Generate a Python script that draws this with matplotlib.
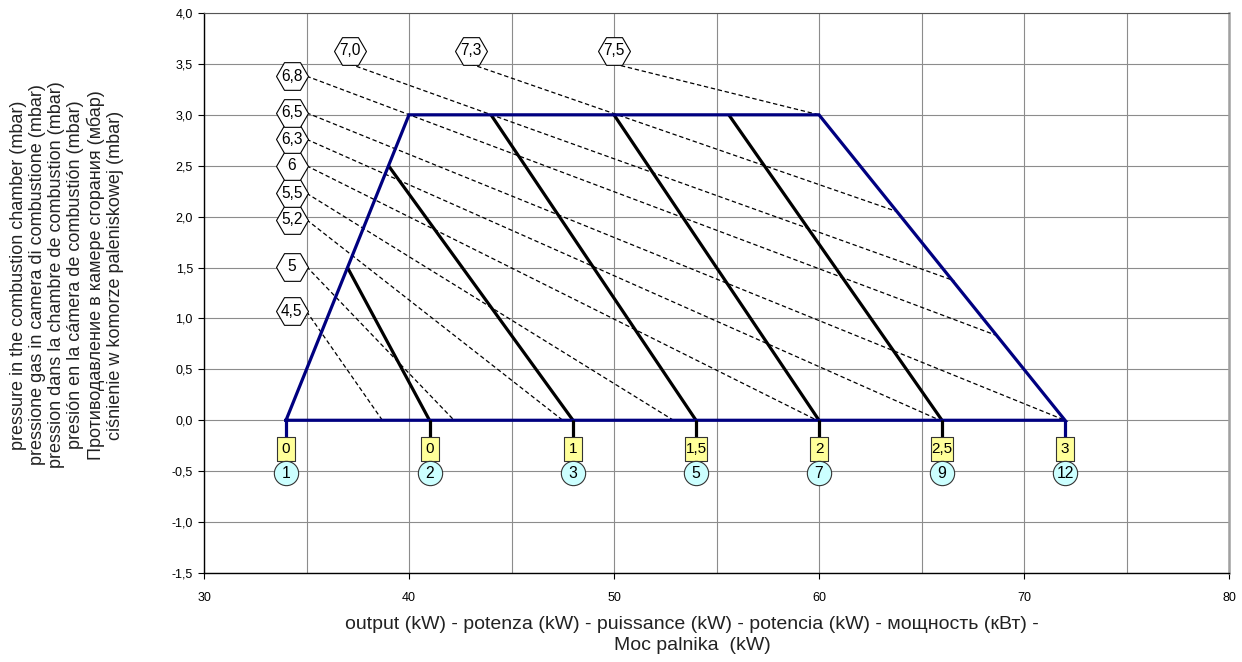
import matplotlib
matplotlib.use("Agg")
import matplotlib.pyplot as plt
from matplotlib.path import Path
import numpy as np

plt.rcParams['font.family'] = ['Liberation Sans', 'DejaVu Sans']

# ---------------- data ----------------
# operating field (trapezoid)
field_x = [34, 40, 60, 72, 34]
field_y = [0, 3.0, 3.0, 0, 0]

# valve-setting lines (solid black): start (x,y) -> end (x,0)
valve_x0 = [37.0, 39.0, 44.0, 50.0, 55.6]
valve_y0 = [1.5, 2.5, 3.0, 3.0, 3.0]
valve_x1 = [41, 48, 54, 60, 66]
valve_y1 = [0, 0, 0, 0, 0]

# bottom scale points
scale_x = [34, 41, 48, 54, 60, 66, 72]
scale_box_labels = ['0', '0', '1', '1,5', '2', '2,5', '3']
scale_circle_labels = ['1', '2', '3', '5', '7', '9', '12']

# pressure labels (hexagons) and iso-pressure dashed lines
hex_labels = ['4,5', '5', '5,2', '5,5', '6', '6,3', '6,5', '6,8', '7,0', '7,3', '7,5']
hex_x = [34.28, 34.28, 34.28, 34.28, 34.28, 34.28, 34.28, 34.28, 37.1, 43.0, 50.0]
hex_y = [1.07, 1.51, 1.97, 2.23, 2.50, 2.76, 3.02, 3.38, 3.63, 3.63, 3.63]
dash_x0 = [35.0, 35.0, 35.0, 35.0, 35.0, 35.0, 35.0, 35.0, 37.1, 43.0, 50.0]
dash_y0 = [1.07, 1.51, 1.97, 2.23, 2.50, 2.76, 3.02, 3.38, 3.50, 3.50, 3.50]
dash_x1 = [38.7, 42.2, 47.5, 52.9, 59.9, 65.9, 72.0, 68.7, 66.6, 63.8, 60.0]
dash_y1 = [0, 0, 0, 0, 0, 0, 0, 0.83, 1.37, 2.05, 3.0]

x_ticks = [30, 40, 50, 60, 70, 80]
x_tick_labels = ['30', '40', '50', '60', '70', '80']
y_ticks = [-1.5, -1.0, -0.5, 0.0, 0.5, 1.0, 1.5, 2.0, 2.5, 3.0, 3.5, 4.0]
y_tick_labels = ['-1,5', '-1,0', '-0,5', '0,0', '0,5', '1,0', '1,5', '2,0',
                 '2,5', '3,0', '3,5', '4,0']

y_label = ("pressure in the combustion chamber (mbar)\n"
           "pressione gas in camera di combustione (mbar)\n"
           "pression dans la chambre de combustion (mbar)\n"
           "presión en la cámera de combustión (mbar)\n"
           "Противодавление в камере сгорания (мбар)\n"
           "ciśnienie w komorze paleniskowej (mbar)")
x_label = ("output (kW) - potenza (kW) - puissance (kW) - potencia (kW) - мощность (кВт) -\n"
           "Moc palnika  (kW)")

# ---------------- figure ----------------
W, H = 1242, 662
fig = plt.figure(figsize=(W / 100, H / 100), dpi=100)
ax = fig.add_axes([204 / W, 1 - 573 / H, (1229 - 204) / W, (573 - 13) / H])

ax.set_xlim(30, 80)
ax.set_ylim(-1.5, 4.0)

ax.set_xticks(x_ticks)
ax.set_xticklabels(x_tick_labels, fontsize=9)
ax.set_xticks(np.arange(35, 80, 10), minor=True)
ax.set_yticks(y_ticks)
ax.set_yticklabels(y_tick_labels, fontsize=9)
ax.tick_params(axis='x', which='major', direction='out', length=4, width=0.8, pad=10)
ax.tick_params(axis='x', which='minor', length=0)
ax.tick_params(axis='y', direction='out', length=4, width=0.8, pad=4)
ax.grid(True, which='both', color='#8c8c8c', linewidth=0.8, zorder=0)
ax.set_axisbelow(True)

for s in ['left', 'bottom']:
    ax.spines[s].set_color('black')
    ax.spines[s].set_linewidth(1.0)
ax.spines['top'].set_color('#555555')
ax.spines['top'].set_linewidth(0.8)
ax.spines['right'].set_color('#a0a0a0')
ax.spines['right'].set_linewidth(1.8)

navy = '#000080'

# dashed iso-pressure lines
for x0, y0, x1, y1 in zip(dash_x0, dash_y0, dash_x1, dash_y1):
    ax.plot([x0, x1], [y0, y1], color='black', lw=0.9, dashes=(3.5, 2.2), zorder=2)

# valve lines
for x0, y0, x1, y1 in zip(valve_x0, valve_y0, valve_x1, valve_y1):
    ax.plot([x0, x1], [y0, y1], color='black', lw=2.3, solid_capstyle='butt', zorder=3)

# field boundary
ax.plot(field_x, field_y, color=navy, lw=2.3, solid_joinstyle='miter', zorder=4)

# stubs to the scale boxes
box_y = -0.28
circ_y = -0.52
for i, x in enumerate(scale_x):
    c = navy if i in (0, len(scale_x) - 1) else 'black'
    ax.plot([x, x], [0, box_y], color=c, lw=2.3, solid_capstyle='butt', zorder=4)

# scale boxes (custom rectangle markers)
for x, lab in zip(scale_x, scale_box_labels):
    hw = 0.375 if len(lab) == 1 else 0.46
    verts = [(-hw, -0.5), (hw, -0.5), (hw, 0.5), (-hw, 0.5), (-hw, -0.5)]
    rect = Path(verts, [Path.MOVETO, Path.LINETO, Path.LINETO, Path.LINETO, Path.CLOSEPOLY])
    ax.plot([x], [box_y], marker=rect, markersize=17.3, mfc='#ffff99', mec='#333333',
            mew=0.8, ls='none', zorder=5, clip_on=False)
    ax.text(x, box_y, lab, ha='center', va='center', fontsize=11, zorder=6)

# circles
for x, lab in zip(scale_x, scale_circle_labels):
    ax.plot([x], [circ_y], marker='o', markersize=17.5, mfc='#ccffff', mec='#333333',
            mew=0.8, ls='none', zorder=5, clip_on=False)
    ax.text(x, circ_y - 0.005, lab, ha='center', va='center', fontsize=11.3, zorder=6)

# hexagons
for x, y, lab in zip(hex_x, hex_y, hex_labels):
    ax.plot([x], [y], marker='H', markersize=23, mfc='white', mec='black',
            mew=0.8, ls='none', zorder=5, clip_on=False)
    ax.text(x, y, lab, ha='center', va='center', fontsize=11.2, zorder=6)

# axis titles
fig.text(67 / W, 1 - 275 / H, y_label, rotation=90, ha='center', va='center',
         multialignment='center', fontsize=13, linespacing=1.17, color='#222222')
fig.text(692 / W, 1 - 635 / H, x_label, ha='center', va='center',
         multialignment='center', fontsize=14, linespacing=1.3, color='#222222')

fig.savefig('out.png', dpi=100)
